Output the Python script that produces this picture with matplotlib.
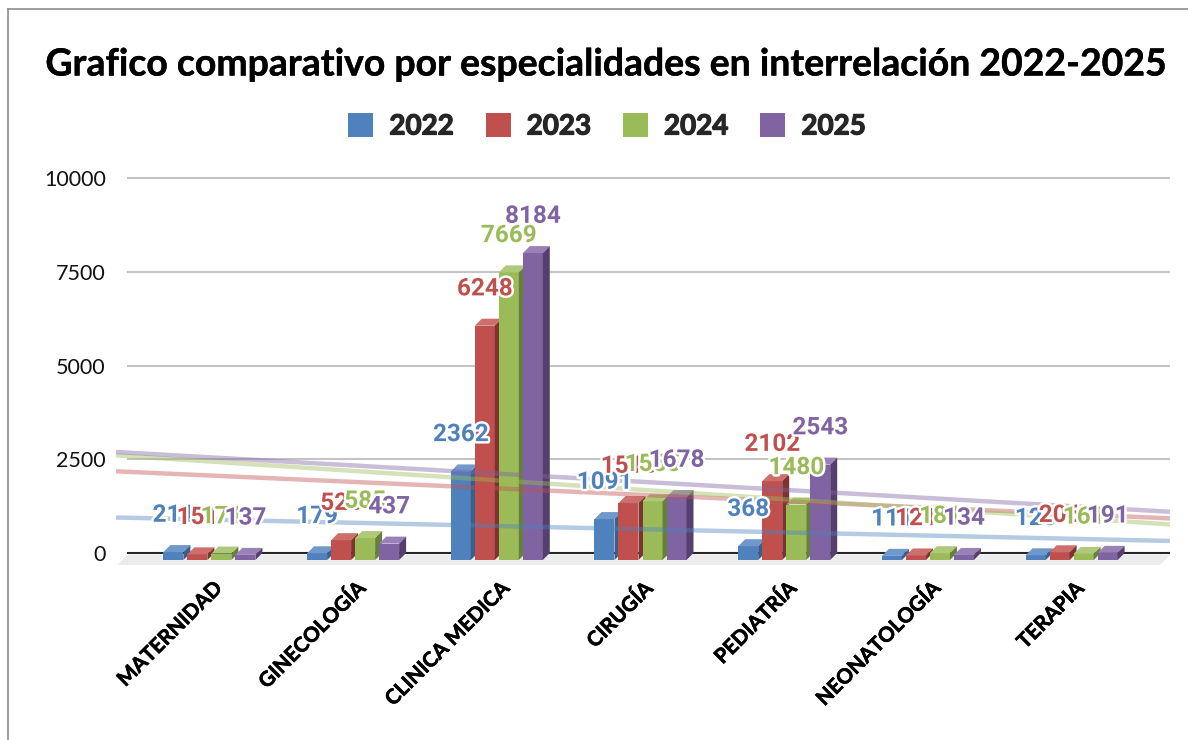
import numpy as np
import matplotlib
matplotlib.use("Agg")
import matplotlib.pyplot as plt
import matplotlib.patheffects as pe
from matplotlib.patches import Polygon, Patch

categories = ["MATERNIDAD", "GINECOLOGÍA", "CLINICA MEDICA", "CIRUGÍA", "PEDIATRÍA", "NEONATOLOGÍA", "TERAPIA"]
years = ["2022", "2023", "2024", "2025"]
v2022 = [211, 179, 2362, 1091, 368, 111, 125]
v2023 = [151, 528, 6248, 1518, 2102, 121, 206]
v2024 = [171, 585, 7669, 1565, 1480, 181, 161]
v2025 = [137, 437, 8184, 1678, 2543, 134, 191]
series = [v2022, v2023, v2024, v2025]
colors = ["#4F81BD", "#C0504D", "#9BBB59", "#8064A2"]
tops = ["#6F99CC", "#CD6F6C", "#AEC97A", "#9A82B8"]
sides = ["#3A5F8C", "#7E3331", "#67803A", "#54406E"]
yticks = [0, 2500, 5000, 7500, 10000]

W, H = 1188, 740
PX_PER_VAL = 0.0375
BASE = 560
L, R, B, T = 117, 1170, 565, 170
D = 7
PITCH = 143.7
CX = 209.4
fig = plt.figure(figsize=(W / 100, H / 100), dpi=100, facecolor="white")
ax = fig.add_axes([L / W, 1 - B / H, (R - L) / W, (B - T) / H])
ax.set_xlim((L - CX) / PITCH, (R - CX) / PITCH)
ax.set_ylim((BASE - B) / PX_PER_VAL, (BASE - T) / PX_PER_VAL)
dx = D / PITCH
dy = D / PX_PER_VAL
bw = 20 / PITCH
step = 24 / PITCH

for s in ax.spines.values():
    s.set_visible(False)
ax.set_xticks([])
ax.set_yticks([t + dy for t in yticks])
ax.set_yticklabels([str(t) for t in yticks], fontfamily="Lato", fontsize=15.5, color="#111111")
ax.tick_params(axis="y", length=0, pad=8)

# floor
x0, x1 = ax.get_xlim()
floor_top = (BASE - 555) / PX_PER_VAL
floor_bot = (BASE - 565) / PX_PER_VAL
ax.add_patch(Polygon([(x0 + 10 / PITCH, floor_top), (x1, floor_top), (x1 - 10 / PITCH, floor_bot), (x0, floor_bot)],
                     fc="#ECECEC", ec="none", zorder=1))
# grid on the back wall
for t in yticks:
    ax.plot([x0 + 10 / PITCH, x1], [t + dy, t + dy], color="#262626" if t == 0 else "#C4C4C4",
            lw=1.5, zorder=2, solid_capstyle="butt")

# bars with pseudo-3D depth
idx = np.arange(len(categories))
for k, vals in enumerate(series):
    xs = idx + (k - 1.5) * step
    ax.bar(xs, vals, width=bw, color=colors[k], zorder=3 + k * 0.1)
    for x, v in zip(xs, vals):
        l, r = x - bw / 2, x + bw / 2
        ax.add_patch(Polygon([(l, v), (r, v), (r + dx, v + dy), (l + dx, v + dy)], fc=tops[k], ec="none", zorder=3 + k * 0.1))
        ax.add_patch(Polygon([(r, 0), (r + dx, dy), (r + dx, v + dy), (r, v)], fc=sides[k], ec="none", zorder=3 + k * 0.1))

# linear trend lines
xl = np.array([x0 - 1 / PITCH, x1])
for k, vals in enumerate(series):
    m, c = np.polyfit(idx, vals, 1)
    ax.plot(xl, m * xl + c + dy, color=colors[k], lw=3.2, alpha=0.42, zorder=4, solid_capstyle="butt", clip_on=False)

# data labels
for k, vals in enumerate(series):
    xs = idx + (k - 1.5) * step
    for x, v in zip(xs, vals):
        ax.annotate(str(v), (x, v), xytext=(0, 26.5), textcoords="offset points", ha="center", va="center",
                    fontfamily="Roboto", fontweight="bold", fontsize=17.5, color=colors[k], zorder=6 + k * 0.1,
                    path_effects=[pe.withStroke(linewidth=3.5, foreground="white")])

# category labels
for i, c in enumerate(categories):
    ax.annotate(c, (i, 0), xytext=(6.5, -18.5), textcoords="offset points", rotation=45, rotation_mode="anchor",
                ha="right", va="center", fontfamily="Lato", fontweight="bold", fontsize=14.8, color="black",
                annotation_clip=False, path_effects=[pe.withStroke(linewidth=0.45, foreground="black")])

fig.text(605 / W, 1 - 65 / H, "Grafico comparativo por especialidades en interrelación 2022-2025", ha="center", va="center",
         fontfamily="Lato", fontweight="bold", fontsize=26.9, color="black",
         path_effects=[pe.withStroke(linewidth=0.3, foreground="black")])

handles = [Patch(fc=colors[k], ec="none") for k in range(4)]
leg = fig.legend(handles, years, loc="center", bbox_to_anchor=(607 / W, 1 - 126 / H), ncols=4, frameon=False,
                 handlelength=0.9, handleheight=1.0, handletextpad=0.58, columnspacing=1.15,
                 prop={"family": "Lato", "size": 20})
for t in leg.get_texts():
    t.set_color("#262626")
    t.set_fontweight("bold")
    t.set_path_effects([pe.withStroke(linewidth=0.9, foreground="#262626")])

# outer frame
fig.add_artist(plt.Line2D([7.5 / W, 7.5 / W], [0, 1 - 8.5 / H], color="#8C8C8C", lw=1.2))
fig.add_artist(plt.Line2D([7.5 / W, 1], [1 - 8.5 / H, 1 - 8.5 / H], color="#8C8C8C", lw=1.2))

fig.savefig("out.png", dpi=100)
